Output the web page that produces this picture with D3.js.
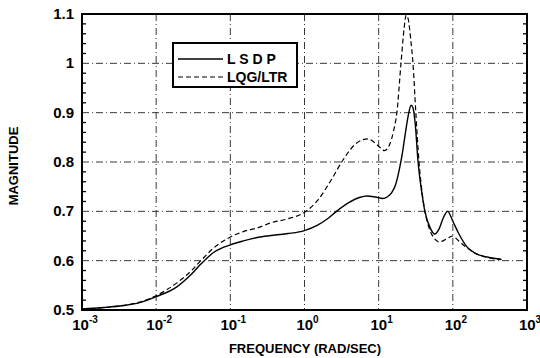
<!DOCTYPE html>
<html>
<head>
<meta charset="utf-8">
<script src="https://cdn.jsdelivr.net/npm/d3@7"></script>
<style>
    body { margin: 0; background: #fff; }
    text { font-family: "Liberation Sans", Arial, Helvetica, sans-serif; font-weight: bold; fill: #000; }
</style>
</head>
<body>
<div id="chart"></div>
<script>
// LSDP response (solid)
var lsdp_freq = [0.001, 0.002, 0.0036, 0.006, 0.01, 0.019, 0.03, 0.04, 0.06, 0.1, 0.15, 0.25, 0.4, 0.6, 1, 1.5, 2, 2.7, 4, 5.5,
    7, 9, 11.4, 13, 15, 17, 19, 21, 23, 25.5, 27.3, 29, 31, 34, 38, 42, 50, 57, 65, 75, 85, 100, 120, 155, 200, 300, 450];
var lsdp_mag = [0.502, 0.505, 0.509, 0.515, 0.527, 0.547, 0.573, 0.593, 0.617, 0.632, 0.640, 0.648, 0.652, 0.655, 0.661, 0.672, 0.684, 0.700, 0.718, 0.728,
    0.731, 0.729, 0.726, 0.729, 0.738, 0.755, 0.785, 0.82, 0.86, 0.90, 0.915, 0.91, 0.88, 0.80, 0.74, 0.70, 0.665, 0.654, 0.664, 0.688, 0.700, 0.680, 0.655, 0.628, 0.615, 0.607, 0.603];

// LQG/LTR response (dashed)
var lqg_freq = [0.001, 0.002, 0.0036, 0.006, 0.01, 0.019, 0.03, 0.04, 0.06, 0.1, 0.15, 0.25, 0.34, 0.6, 1, 1.5, 2.3, 3.3, 5, 7.2,
    9.5, 12, 14, 16, 17.6, 20, 22, 23.5, 25, 27, 29, 31.7, 35, 40, 47, 55, 66, 80, 99, 120, 155, 200, 300, 450];
var lqg_mag = [0.502, 0.505, 0.509, 0.516, 0.529, 0.555, 0.580, 0.600, 0.626, 0.648, 0.659, 0.668, 0.676, 0.685, 0.698, 0.722, 0.764, 0.804, 0.838, 0.847,
    0.835, 0.823, 0.835, 0.865, 0.90, 1.0, 1.07, 1.098, 1.09, 1.05, 1.0, 0.90, 0.80, 0.72, 0.67, 0.647, 0.638, 0.643, 0.650, 0.640, 0.626, 0.615, 0.606, 0.602];

var x_ticks = [1e-3, 1e-2, 1e-1, 1e0, 1e1, 1e2, 1e3];
var x_tick_exp = ["-3", "-2", "-1", "0", "1", "2", "3"];
var y_ticks = [0.5, 0.6, 0.7, 0.8, 0.9, 1, 1.1];
var y_tick_labels = ["0.5", "0.6", "0.7", "0.8", "0.9", "1", "1.1"];
var legend_labels = ["L S D P", "LQG/LTR"];

var chart = (function () {
    var left = 82, right = 527, top = 14, bottom = 310;

    return {
        draw: function (placement) {
            var svg = d3.select(placement).append("svg")
                .attr("width", 540)
                .attr("height", 358);

            var x = d3.scaleLog().domain([1e-3, 1e3]).range([left, right]);
            var y = d3.scaleLinear().domain([0.5, 1.1]).range([bottom, top]);

            // grid, dash-dot
            var grid = svg.append("g")
                .attr("stroke", "#222")
                .attr("stroke-width", 0.9)
                .attr("stroke-dasharray", "7,3,1,3");

            grid.selectAll("line.gx")
                .data(x_ticks.slice(1, -1))
                .enter().append("line")
                .attr("class", "gx")
                .attr("x1", function (d) { return x(d); })
                .attr("x2", function (d) { return x(d); })
                .attr("y1", top)
                .attr("y2", bottom);

            grid.selectAll("line.gy")
                .data(y_ticks.slice(1, -1))
                .enter().append("line")
                .attr("class", "gy")
                .attr("x1", left)
                .attr("x2", right)
                .attr("y1", function (d) { return y(d); })
                .attr("y2", function (d) { return y(d); });

            // minor ticks on y, inside both sides
            var minor = d3.range(0.52, 1.1, 0.02).filter(function (d) {
                return Math.abs(d * 10 - Math.round(d * 10)) > 0.01;
            });
            var ticks = svg.append("g").attr("stroke", "#000").attr("stroke-width", 1.3);
            ticks.selectAll("line.ml")
                .data(minor)
                .enter().append("line")
                .attr("x1", left).attr("x2", left + 4)
                .attr("y1", function (d) { return y(d); })
                .attr("y2", function (d) { return y(d); });
            ticks.selectAll("line.mr")
                .data(minor)
                .enter().append("line")
                .attr("x1", right).attr("x2", right - 4)
                .attr("y1", function (d) { return y(d); })
                .attr("y2", function (d) { return y(d); });

            // curves
            var line = d3.line()
                .x(function (d) { return x(d[0]); })
                .y(function (d) { return y(d[1]); })
                .curve(d3.curveMonotoneX);

            svg.append("path")
                .datum(d3.zip(lqg_freq, lqg_mag))
                .attr("fill", "none")
                .attr("stroke", "#000")
                .attr("stroke-width", 1.2)
                .attr("stroke-dasharray", "5,3")
                .attr("d", line);

            svg.append("path")
                .datum(d3.zip(lsdp_freq, lsdp_mag))
                .attr("fill", "none")
                .attr("stroke", "#000")
                .attr("stroke-width", 1.4)
                .attr("d", line);

            // frame
            svg.append("rect")
                .attr("x", left).attr("y", top)
                .attr("width", right - left).attr("height", bottom - top)
                .attr("fill", "none")
                .attr("stroke", "#000")
                .attr("stroke-width", 2);

            // y tick labels
            svg.selectAll("text.yl")
                .data(y_ticks)
                .enter().append("text")
                .attr("class", "yl")
                .attr("x", 74)
                .attr("y", function (d) { return y(d) + 5; })
                .attr("text-anchor", "end")
                .style("font-size", "15px")
                .text(function (d, i) { return y_tick_labels[i]; });

            // x tick labels 10^n
            var xl = svg.selectAll("text.xl")
                .data(x_ticks)
                .enter().append("text")
                .attr("class", "xl")
                .attr("x", function (d) { return x(d) + 3; })
                .attr("y", 330)
                .attr("text-anchor", "middle")
                .style("font-size", "15px");
            xl.append("tspan").text("10");
            xl.append("tspan")
                .attr("dy", -7)
                .style("font-size", "10px")
                .text(function (d, i) { return x_tick_exp[i]; });

            // axis titles
            svg.append("text")
                .attr("transform", "translate(18,166) rotate(-90)")
                .attr("text-anchor", "middle")
                .style("font-size", "13px")
                .text("MAGNITUDE");

            svg.append("text")
                .attr("x", 305)
                .attr("y", 353)
                .attr("text-anchor", "middle")
                .style("font-size", "13px")
                .text("FREQUENCY (RAD/SEC)");

            // legend
            var lg = svg.append("g").attr("transform", "translate(173,43)");
            lg.append("rect")
                .attr("width", 124).attr("height", 44)
                .attr("fill", "#fff")
                .attr("stroke", "#000")
                .attr("stroke-width", 2);
            var rows = lg.selectAll("g.row")
                .data(legend_labels)
                .enter().append("g")
                .attr("transform", function (d, i) { return "translate(0," + (16 + i * 18) + ")"; });
            rows.append("line")
                .attr("x1", 5).attr("x2", 50)
                .attr("stroke", "#000")
                .attr("stroke-width", function (d, i) { return i === 0 ? 1.4 : 1.2; })
                .attr("stroke-dasharray", function (d, i) { return i === 0 ? null : "5,3"; });
            rows.append("text")
                .attr("x", 54)
                .attr("y", 5)
                .style("font-size", "14px")
                .text(function (d) { return d; });
        }
    }
})();

chart.draw("#chart");
</script>
</body>
</html>
